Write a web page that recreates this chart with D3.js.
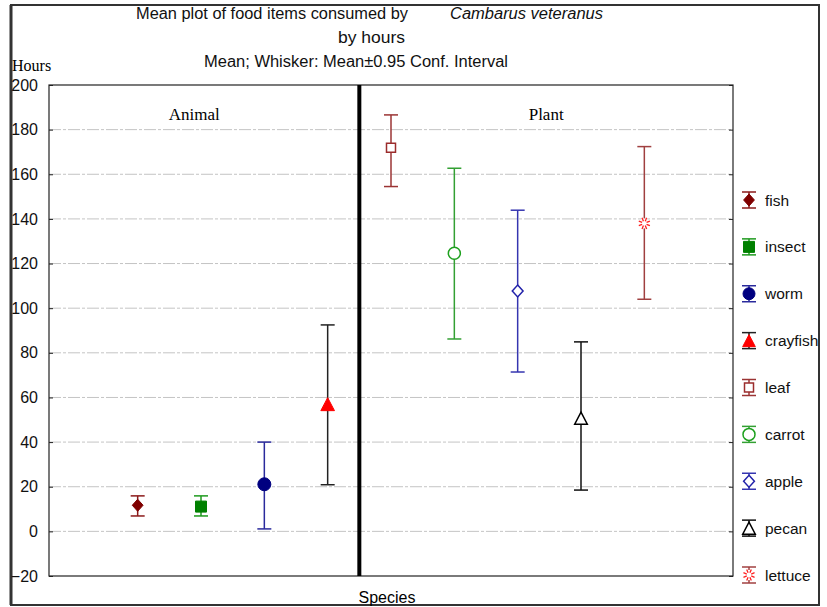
<!DOCTYPE html>
<html>
<head>
<meta charset="utf-8">
<script src="https://cdn.jsdelivr.net/npm/d3@7"></script>
<style>
  body { margin: 0; background: #fff; }
  text { font-family: Arial, "Liberation Sans", sans-serif; }
</style>
</head>
<body>
<div id="chart"></div>
<script>

// food items, in plotting order
var foods = ["fish", "insect", "worm", "crayfish", "leaf", "carrot", "apple", "pecan", "lettuce"];
var groups = ["Animal", "Plant"];
var foodGroup = ["Animal", "Animal", "Animal", "Animal", "Plant", "Plant", "Plant", "Plant", "Plant"];

// mean hours and 0.95 conf. interval
var means = [11.7, 11.1, 21.1, 57.0, 171.9, 124.6, 107.7, 50.7, 138.0];
var lower = [6.9, 6.9, 1.1, 20.9, 154.5, 86.2, 71.4, 18.5, 104.0];
var upper = [15.9, 15.9, 40.0, 92.5, 186.6, 162.7, 143.9, 84.9, 172.4];

var yTicks = [-20, 0, 20, 40, 60, 80, 100, 120, 140, 160, 180, 200];

// marker look per food
var shapes = ["diamond", "square", "circle", "triangle", "square", "circle", "diamond", "triangle", "star"];
var filled = [true, true, true, true, false, false, false, false, false];
var markColor = ["#7f0000", "#008000", "#000080", "#ff0000", "#9b2c2c", "#1ea01e", "#2222aa", "#000000", "#ff2020"];
var whiskColor = ["#8b1a1a", "#1e9a1e", "#2a2a9c", "#222222", "#9b3434", "#33a033", "#3535b0", "#111111", "#a04040"];

var W = 827, H = 607;
var plot = {left: 49, top: 85, right: 733, bottom: 576};

var svg = d3.select("#chart").append("svg")
    .attr("width", W)
    .attr("height", H);

var y = d3.scaleLinear().domain([-20, 200]).range([plot.bottom, plot.top]);
var x = d3.scalePoint().domain(foods).range([plot.left, plot.right]).padding(1.4);

// outer frame
svg.append("rect")
    .attr("x", 11).attr("y", 5)
    .attr("width", 808).attr("height", 600)
    .attr("fill", "none").attr("stroke", "#333").attr("stroke-width", 2);
svg.append("line")
    .attr("x1", 11).attr("x2", 11).attr("y1", 5).attr("y2", 605)
    .attr("stroke", "#333").attr("stroke-width", 3);

// grid lines
svg.append("g").selectAll("line")
    .data(yTicks.filter(function(d) { return d > -20 && d < 200; }))
    .enter().append("line")
    .attr("x1", plot.left).attr("x2", plot.right)
    .attr("y1", function(d) { return y(d); })
    .attr("y2", function(d) { return y(d); })
    .attr("stroke", "#c4c4c4")
    .attr("stroke-width", 1)
    .attr("stroke-dasharray", "12,2,3,2");

// left axis, ticks inside the plot
var yAxis = d3.axisLeft(y).tickValues(yTicks).tickSizeInner(-4).tickSizeOuter(0).tickPadding(11);
var ga = svg.append("g")
    .attr("transform", "translate(" + plot.left + ",0)")
    .call(yAxis);
ga.select(".domain").remove();
ga.selectAll("line").attr("stroke", "#222");
ga.selectAll("text")
    .style("font-family", "Arial, 'Liberation Sans', sans-serif")
    .style("font-size", "16px")
    .attr("fill", "#111");

// right ticks
var yAxisR = d3.axisRight(y).tickValues(yTicks).tickSizeInner(-4).tickSizeOuter(0).tickFormat("");
var gr = svg.append("g")
    .attr("transform", "translate(" + plot.right + ",0)")
    .call(yAxisR);
gr.select(".domain").remove();
gr.selectAll("line").attr("stroke", "#222");

// plot box
svg.append("rect")
    .attr("x", plot.left).attr("y", plot.top)
    .attr("width", plot.right - plot.left).attr("height", plot.bottom - plot.top)
    .attr("fill", "none").attr("stroke", "#222").attr("stroke-width", 1.2);

// divider between animal and plant
var split = (x("crayfish") + x("leaf")) / 2;
svg.append("line")
    .attr("x1", split).attr("x2", split)
    .attr("y1", plot.top).attr("y2", plot.bottom)
    .attr("stroke", "#000").attr("stroke-width", 4);

// group labels
groups.forEach(function(g) {
    var lo = g == "Animal" ? plot.left : split;
    var hi = g == "Animal" ? split : plot.right;
    svg.append("text")
        .attr("x", (lo + hi) / 2 + (g == "Animal" ? -10 : 0))
        .attr("y", 120)
        .attr("text-anchor", "middle")
        .style("font-family", "'Times New Roman', 'Liberation Serif', serif")
        .style("font-size", "17px")
        .text(g);
});

function markerPath(shape, s) {
    var h = s / 2;
    if (shape == "diamond") return "M0," + (-h) + "L" + (h * 0.9) + ",0L0," + h + "L" + (-h * 0.9) + ",0Z";
    if (shape == "square") return "M" + (-h) + "," + (-h) + "h" + s + "v" + s + "h" + (-s) + "Z";
    if (shape == "triangle") return "M0," + (-h) + "L" + (h * 1.05) + "," + h + "L" + (-h * 1.05) + "," + h + "Z";
    if (shape == "circle") return d3.arc()({innerRadius: 0, outerRadius: h, startAngle: 0, endAngle: 2 * Math.PI});
    return "";
}
var markSize = [12, 11, 13, 13, 9, 12, 12, 12, 12];

function drawMarker(g, i, s) {
    if (shapes[i] == "star") {
        var rays = d3.range(8).map(function(k) { return k * Math.PI / 4 + Math.PI / 8; });
        g.selectAll("line.ray").data(rays).enter().append("line")
            .attr("class", "ray")
            .attr("x1", function(a) { return Math.cos(a) * s * 0.2; })
            .attr("y1", function(a) { return Math.sin(a) * s * 0.2; })
            .attr("x2", function(a) { return Math.cos(a) * s * 0.5; })
            .attr("y2", function(a) { return Math.sin(a) * s * 0.5; })
            .attr("stroke", markColor[i]).attr("stroke-width", 1.3);
        return;
    }
    g.append("path")
        .attr("d", markerPath(shapes[i], s))
        .attr("fill", filled[i] ? markColor[i] : "#fff")
        .attr("stroke", markColor[i])
        .attr("stroke-width", filled[i] ? 1 : 1.5);
}

// whiskers and means
var cap = 7;
foods.forEach(function(f, i) {
    var g = svg.append("g").attr("transform", "translate(" + x(f) + ",0)");
    g.append("line")
        .attr("x1", 0).attr("x2", 0)
        .attr("y1", y(lower[i])).attr("y2", y(upper[i]))
        .attr("stroke", whiskColor[i]).attr("stroke-width", 1.5);
    [lower[i], upper[i]].forEach(function(v) {
        g.append("line")
            .attr("x1", -cap).attr("x2", cap)
            .attr("y1", y(v)).attr("y2", y(v))
            .attr("stroke", whiskColor[i]).attr("stroke-width", 1.5);
    });
    var m = g.append("g").attr("transform", "translate(0," + y(means[i]) + ")");
    if (shapes[i] == "star") {
        m.append("rect").attr("x", -3).attr("y", -5).attr("width", 6).attr("height", 10).attr("fill", "#fff");
    }
    drawMarker(m, i, markSize[i]);
});

// legend
var legendY = d3.scalePoint().domain(foods).range([200, 575]);
foods.forEach(function(f, i) {
    var g = svg.append("g").attr("transform", "translate(749," + legendY(f) + ")");
    g.append("line").attr("x1", 0).attr("x2", 0).attr("y1", -8).attr("y2", 8)
        .attr("stroke", whiskColor[i]).attr("stroke-width", 1.5);
    [-8, 8].forEach(function(v) {
        g.append("line").attr("x1", -7).attr("x2", 7).attr("y1", v).attr("y2", v)
            .attr("stroke", whiskColor[i]).attr("stroke-width", 1.5);
    });
    var m = g.append("g");
    if (shapes[i] == "star") {
        m.append("rect").attr("x", -3).attr("y", -5).attr("width", 6).attr("height", 10).attr("fill", "#fff");
    }
    drawMarker(m, i, Math.min(markSize[i], 12));
    g.append("text")
        .attr("x", 16).attr("y", 5.5)
        .style("font-size", "15.5px")
        .attr("fill", "#111")
        .text(f);
});

// titles
function title(txt, xx, yy, len, italic) {
    svg.append("text")
        .attr("x", xx).attr("y", yy)
        .attr("textLength", len)
        .attr("lengthAdjust", "spacingAndGlyphs")
        .style("font-size", "16px")
        .style("font-style", italic ? "italic" : "normal")
        .attr("fill", "#111")
        .text(txt);
}
title("Mean plot of food items consumed by", 136, 19, 272, false);
title("Cambarus veteranus", 450, 19, 153, true);
title("by hours", 338, 43, 67, false);
title("Mean; Whisker: Mean\u00b10.95 Conf. Interval", 204, 67, 304, false);

svg.append("text")
    .attr("x", 12).attr("y", 71)
    .style("font-family", "'Times New Roman', 'Liberation Serif', serif")
    .style("font-size", "16px")
    .text("Hours");

svg.append("text")
    .attr("x", 387).attr("y", 603)
    .attr("text-anchor", "middle")
    .style("font-size", "16px")
    .text("Species");

</script>
</body>
</html>
